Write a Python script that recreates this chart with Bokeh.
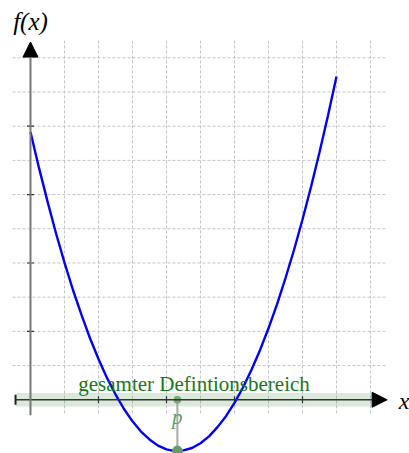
import numpy as np
from bokeh.plotting import figure
from bokeh.models import Range1d, Arrow, NormalHead
from bokeh.core.properties import value
from bokeh.embed import file_html
from bokeh.resources import INLINE

# ---- data ----
x_vals = [0.0, 0.25, 0.5, 0.75, 1.0, 1.25, 1.5, 1.75, 2.0, 2.25, 2.5, 2.75,
          3.0, 3.25, 3.5, 3.75, 4.0, 4.25, 4.32, 4.5, 4.75, 5.0, 5.25, 5.5,
          5.75, 6.0, 6.25, 6.5, 6.75, 7.0, 7.25, 7.5, 7.75, 8.0, 8.25, 8.5,
          8.75, 9.0]
f_vals = [7.83, 6.78, 5.80, 4.87, 4.01, 3.21, 2.48, 1.80, 1.19, 0.64, 0.16, -0.27,
          -0.63, -0.93, -1.16, -1.34, -1.45, -1.50, -1.50, -1.48, -1.41, -1.27, -1.07, -0.80,
          -0.48, -0.09, 0.36, 0.88, 1.45, 2.09, 2.79, 3.56, 4.38, 5.27, 6.22, 7.24,
          8.31, 9.45]
p_x = 4.32
p_fy = -1.50
domain = [-0.44, 10.06]
x_ticks = [2, 4, 6, 8]
y_ticks = [2, 4, 6, 8]
grid_x = [1, 2, 3, 4, 5, 6, 7, 8, 9, 10]
grid_y = [1, 2, 3, 4, 5, 6, 7, 8, 9, 10]
x_axis_span = [-0.44, 10.49]
y_axis_span = [-0.45, 10.46]
grid_x_span = [-0.53, 10.5]
grid_y_span = [-0.4, 10.5]
band_label = "gesamter Defintionsbereich"
x_label = "x"
y_label = "f(x)"
p_label = "p"

SERIF = value("Liberation Serif")

p = figure(width=409, height=453,
           x_range=Range1d(-0.882, 11.147), y_range=Range1d(-1.571, 11.675),
           toolbar_location=None, output_backend="svg",
           x_axis_type=None, y_axis_type=None, min_border=0)
p.grid.visible = False
p.outline_line_color = None
p.background_fill_color = "white"

# grid
p.segment(x0=grid_x, y0=[grid_y_span[0]] * len(grid_x), x1=grid_x, y1=[grid_y_span[1]] * len(grid_x),
          line_color="#c4c4c4", line_width=1, line_dash="3 2")
p.segment(x0=[grid_x_span[0]] * len(grid_y), y0=grid_y, x1=[grid_x_span[1]] * len(grid_y), y1=grid_y,
          line_color="#c4c4c4", line_width=1, line_dash="3 2")

# domain band
p.quad(left=[domain[0]], right=[domain[1]], bottom=[-0.2], top=[0.2],
       fill_color="#5a9a5a", fill_alpha=0.22, line_color=None)

# axes
p.add_layout(Arrow(end=NormalHead(size=15, fill_color="black", line_color="black"),
                   x_start=x_axis_span[0], y_start=0, x_end=x_axis_span[1], y_end=0,
                   line_color="#333333", line_width=1.5))
p.add_layout(Arrow(end=NormalHead(size=15, fill_color="black", line_color="black"),
                   x_start=0, y_start=y_axis_span[0], x_end=0, y_end=y_axis_span[1],
                   line_color="#777777", line_width=2))

# ticks
p.scatter(x=x_ticks, y=[0] * len(x_ticks), marker="dash", size=7, angle=np.pi / 2,
          line_color="#333333", line_width=1.2)
p.scatter(x=[0] * len(y_ticks), y=y_ticks, marker="dash", size=7,
          line_color="#333333", line_width=1.2)
p.scatter(x=[x_axis_span[0]], y=[0], marker="dash", size=10, angle=np.pi / 2,
          line_color="#222222", line_width=2)

# curve
p.line(x=x_vals, y=f_vals, line_color="#0000ff", line_width=2.4)

# label for domain
p.text(x=[4.81], y=[0.47], text=[band_label],
       text_font=SERIF, text_font_size="21px", text_align="center",
       text_baseline="alphabetic", text_color="#187818")

# p marker
p.segment(x0=[p_x], y0=[0], x1=[p_x], y1=[p_fy], line_color="#aaaaaa", line_width=2)
p.scatter(x=[p_x], y=[0], size=7, fill_color="#78a878", line_color="#78a878")
p.scatter(x=[p_x], y=[p_fy], size=10, fill_color="#6a9a6a", line_color="#6a9a6a")
p.text(x=[p_x], y=[-0.49], text=[p_label], text_font=SERIF, text_font_style="italic",
       text_font_size="21px", text_align="center", text_baseline="middle",
       text_color="#5f9f5f")

# axis labels
p.text(x=[10.99], y=[-0.04], text=[x_label], text_font=SERIF, text_font_style="italic",
       text_font_size="24px", text_align="center", text_baseline="middle", text_color="black")
p.text(x=[0.0], y=[11.06], text=[y_label], text_font=SERIF, text_font_style="italic",
       text_font_size="25px", text_align="center", text_baseline="middle", text_color="black")

open("out.html", "w").write(file_html(p, INLINE))
